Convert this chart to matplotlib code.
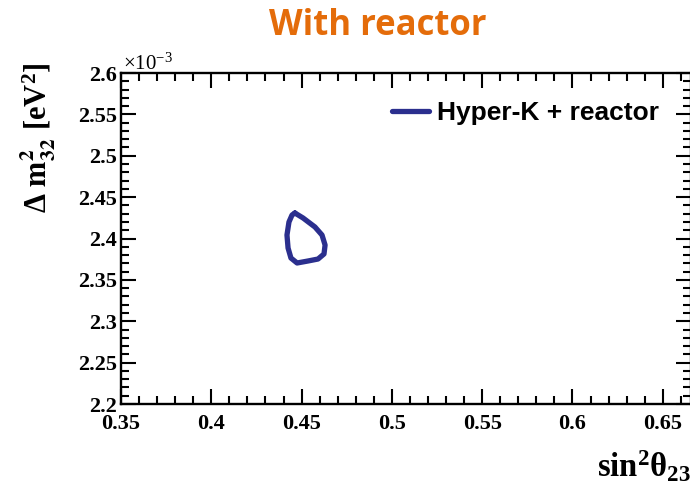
import matplotlib
matplotlib.use("Agg")
import matplotlib.pyplot as plt
from matplotlib.ticker import MultipleLocator, FuncFormatter

# Contour (sin^2 theta23, dm^2_32 in units of 1e-3 eV^2)
contour_x = [0.4463, 0.4508, 0.4574, 0.4613, 0.4630, 0.4624, 0.4591, 0.4535,
             0.4475, 0.4441, 0.4425, 0.4419, 0.4430, 0.4447, 0.4463]
contour_y = [2.4308, 2.4248, 2.4139, 2.4042, 2.3921, 2.3813, 2.3752, 2.3728,
             2.3704, 2.3764, 2.3885, 2.4042, 2.4199, 2.4284, 2.4308]
series_label = "Hyper-K + reactor"
title_text = "With reactor"
x_ticks = [0.35, 0.4, 0.45, 0.5, 0.55, 0.6, 0.65]
y_ticks = [2.2, 2.25, 2.3, 2.35, 2.4, 2.45, 2.5, 2.55, 2.6]

plt.rcParams['mathtext.fontset'] = 'stix'
plt.rcParams['mathtext.default'] = 'regular'

W, H = 690, 490
fig = plt.figure(figsize=(6.9, 4.9), dpi=100)
ax = fig.add_axes([121 / W, (H - 404) / H, (691 - 121) / W, (404 - 73) / H])

ax.plot(contour_x, contour_y, color='#2B2F8E', lw=3.8, solid_joinstyle='round',
        solid_capstyle='round', label=series_label)

ax.set_xlim(0.35, 0.35 + (691 - 121) / 1806)
ax.set_ylim(2.2, 2.6)
ax.set_xticks(x_ticks)
ax.set_yticks(y_ticks)
ax.xaxis.set_minor_locator(MultipleLocator(0.01))
ax.yaxis.set_minor_locator(MultipleLocator(0.01))
fmt = FuncFormatter(lambda v, p: "%g" % round(v, 3))
ax.xaxis.set_major_formatter(fmt)
ax.yaxis.set_major_formatter(fmt)

tickfont = dict(family='Liberation Serif', weight='bold', size=16)
for lab in ax.get_xticklabels() + ax.get_yticklabels():
    lab.set_fontproperties(matplotlib.font_manager.FontProperties(**tickfont))
ax.tick_params(which='both', direction='in', top=True, right=True, width=1.5,
               colors='black')
ax.tick_params(which='major', length=11)
ax.tick_params(which='minor', length=6)
ax.tick_params(axis='x', which='major', pad=7)
ax.tick_params(axis='y', which='major', pad=3)
for s in ax.spines.values():
    s.set_linewidth(1.7)

# multiplier text
fig.text(123 / W, 1 - 64 / H, r'$\times$10$^{-3}$', fontsize=15,
         family='Liberation Serif', ha='left', va='center')

# y label
fig.text(38 / W, 1 - 138 / H, r'$\Delta$ $\mathbf{m^{2}_{32}}$ [eV$^{2}$]',
         rotation=90, fontsize=22, family='Liberation Serif', weight='bold',
         ha='center', va='center')

# x label
fig.text(597 / W, 1 - 477 / H, r'sin$^{2}\theta_{23}$', fontsize=23.5,
         family='Liberation Serif', weight='bold', ha='left', va='baseline')

# title
fig.text(378 / W, 1 - 26 / H, title_text, fontsize=25, family='Open Sans',
         weight='bold', color='#E46C0A', ha='center', va='center')

leg = ax.legend(loc='center left', bbox_to_anchor=(392 / W, 1 - 113 / H),
                bbox_transform=fig.transFigure, frameon=False,
                prop=dict(family='Liberation Sans', weight='bold', size=19),
                handlelength=1.4, handletextpad=0.3, borderpad=0,
                borderaxespad=0)

fig.savefig('out.png', dpi=100)
